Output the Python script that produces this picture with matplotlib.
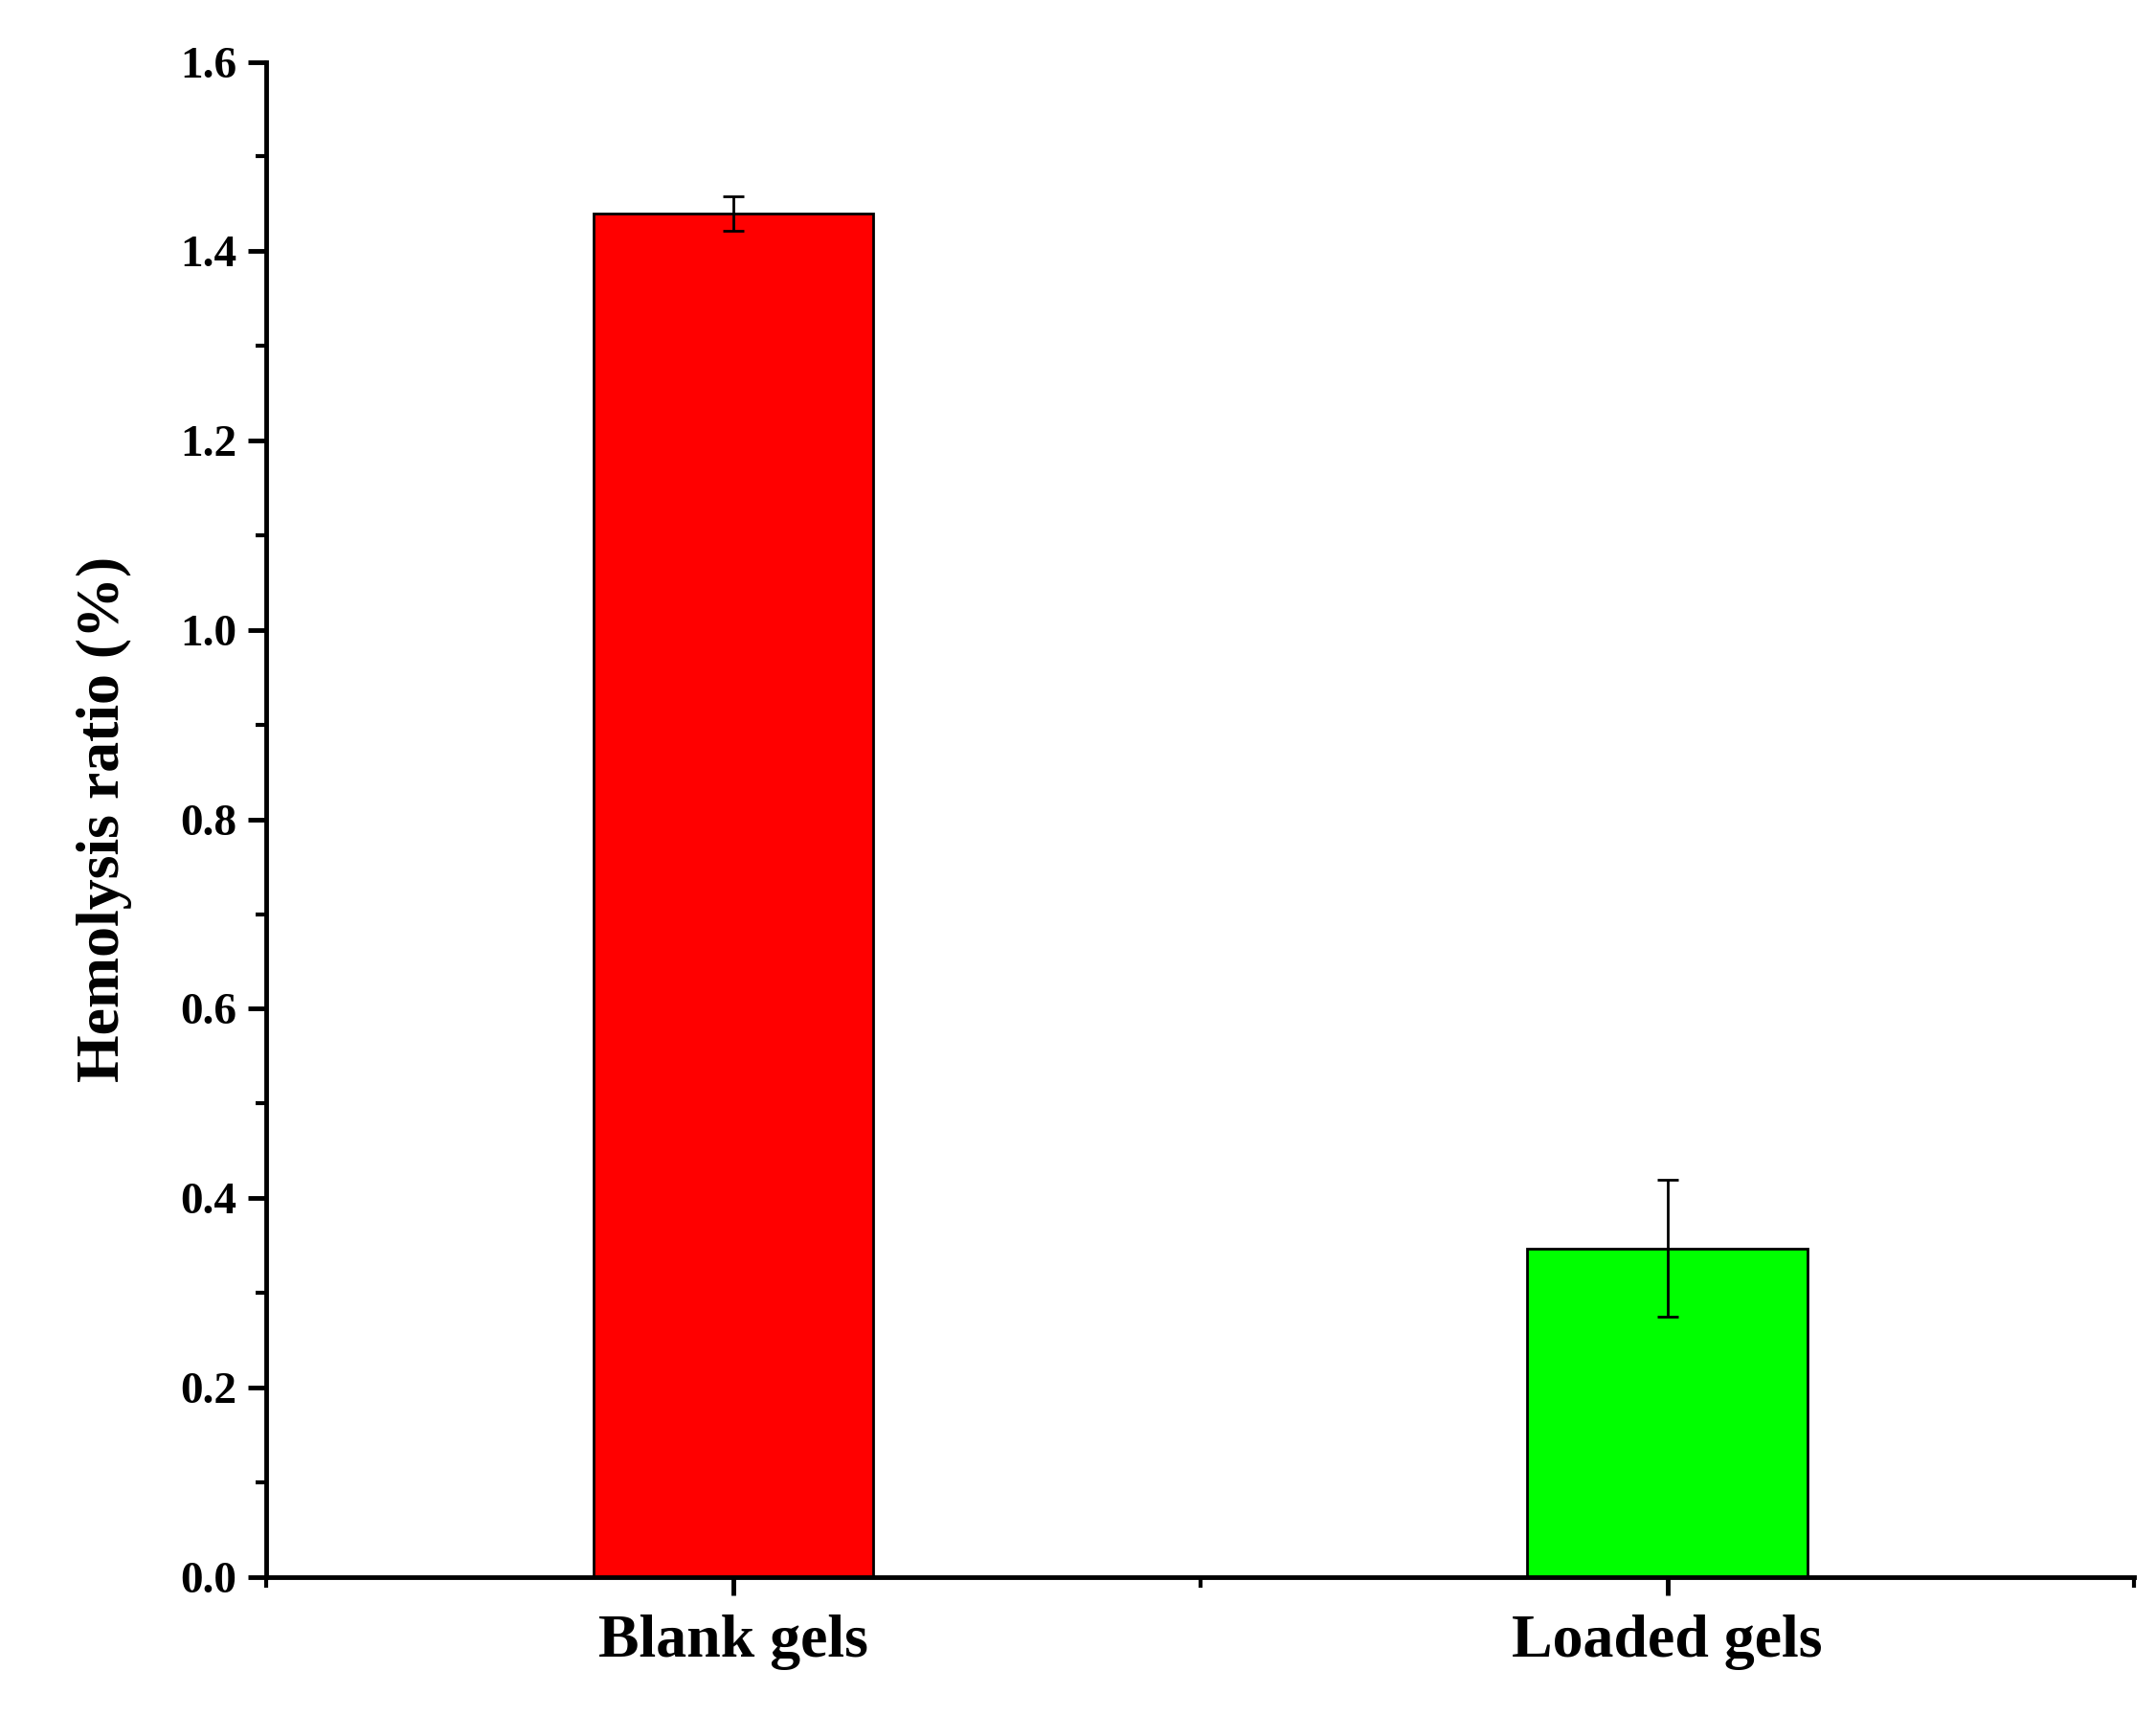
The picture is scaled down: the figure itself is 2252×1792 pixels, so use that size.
import matplotlib
matplotlib.use("Agg")
import matplotlib.pyplot as plt
from matplotlib.ticker import MultipleLocator

categories = ["Blank gels", "Loaded gels"]
values = [1.44, 0.347]
errors = [0.018, 0.072]
colors = ["#ff0000", "#00ff00"]

plt.rcParams['font.family'] = ['Liberation Serif', 'DejaVu Serif']
plt.rcParams['font.weight'] = 'bold'
fig = plt.figure(figsize=(22.52, 17.92), dpi=100)
ax = fig.add_axes([0.1235, 0.081, 0.8665, 0.883])
x = [1, 2]
ax.bar(x, values, width=0.3, color=colors, edgecolor='black', linewidth=2,
       yerr=errors, error_kw=dict(ecolor='black', elinewidth=2, capsize=8, capthick=2))
ax.set_xlim(0.5, 2.5)
ax.set_ylim(0, 1.6)
ax.set_xticks(x)
ax.set_xticklabels(categories)
ax.xaxis.set_minor_locator(MultipleLocator(0.5))
ax.yaxis.set_major_locator(MultipleLocator(0.2))
ax.yaxis.set_minor_locator(MultipleLocator(0.1))
ax.yaxis.set_major_formatter(matplotlib.ticker.FormatStrFormatter('%.1f'))
for s in ['top', 'right']:
    ax.spines[s].set_visible(False)
for s in ['left', 'bottom']:
    ax.spines[s].set_linewidth(3.5)
ax.tick_params(which='major', length=14, width=3.5, labelsize=34, pad=8)
ax.tick_params(axis='x', which='major', labelsize=46, pad=14)
ax.tick_params(which='minor', length=8, width=3)
ax.set_ylabel("Hemolysis ratio (%)", fontsize=46, fontweight='bold', labelpad=36)
fig.savefig("out.png", dpi=100)
